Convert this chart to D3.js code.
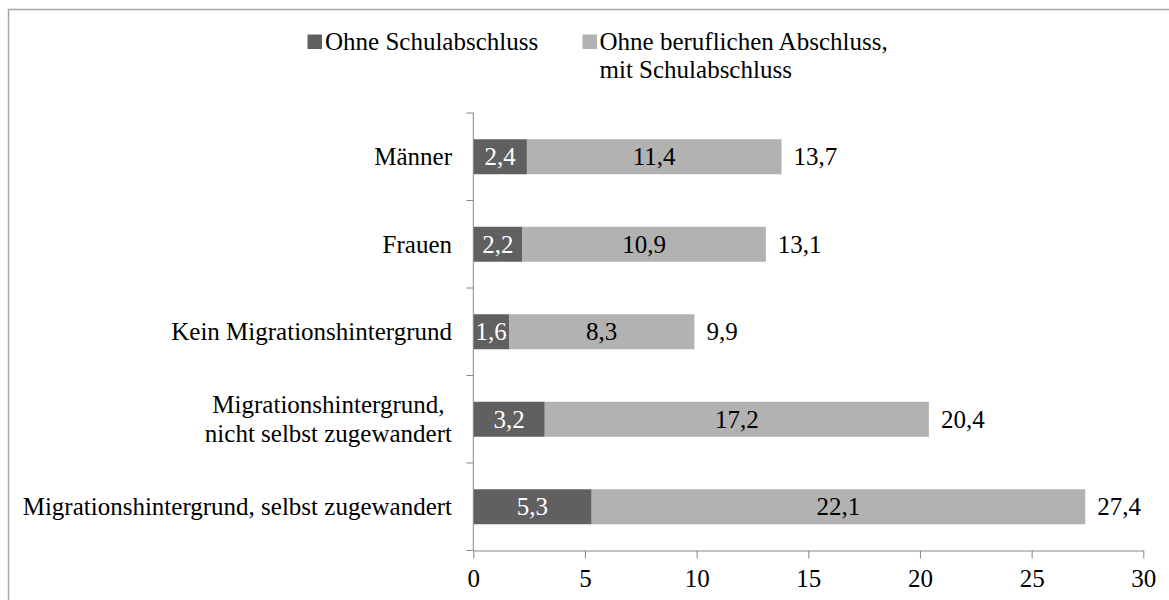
<!DOCTYPE html>
<html>
<head>
<meta charset="utf-8">
<script src="https://cdn.jsdelivr.net/npm/d3@7"></script>
<style>
  html, body { margin: 0; padding: 0; background: #fff; }
  svg { display: block; }
  text { font-family: "Liberation Serif", "Times New Roman", serif; }
</style>
</head>
<body>
<svg id="chart" width="1169" height="600"></svg>
<script>
const categories = [
  "Männer",
  "Frauen",
  "Kein Migrationshintergrund",
  "Migrationshintergrund,\nnicht selbst zugewandert",
  "Migrationshintergrund, selbst zugewandert"
];
const ohneSchulabschluss = [2.4, 2.2, 1.6, 3.2, 5.3];
const ohneBeruflichen = [11.4, 10.9, 8.3, 17.2, 22.1];
const totals = [13.7, 13.1, 9.9, 20.4, 27.4];
const xTicks = [0, 5, 10, 15, 20, 25, 30];
const seriesNames = ["Ohne Schulabschluss", "Ohne beruflichen Abschluss,\nmit Schulabschluss"];
const seriesColors = ["#606060", "#b2b2b2"];

const svg = d3.select("#chart");
const fontSize = 25;
const axisColor = "#878787";

const locale = d3.formatLocale({decimal: ",", thousands: ".", grouping: [3], currency: ["", "€"]});
const fmt = locale.format(".1f");

// outer frame
svg.append("rect")
  .attr("x", 8.5).attr("y", 9.5)
  .attr("width", 1300).attr("height", 800)
  .attr("fill", "none").attr("stroke", "#a6a6a6").attr("stroke-width", 1.5);

const x = d3.scaleLinear().domain([0, 30]).range([473.3, 1143.3]);
const y = d3.scaleBand().domain(categories).range([113, 550.5]).paddingInner(0.6).paddingOuter(0.3);

const rows = categories.map((c, i) => ({cat: c, s0: ohneSchulabschluss[i], s1: ohneBeruflichen[i], total: totals[i]}));
const stacked = d3.stack().keys(["s0", "s1"])(rows);

// bars
stacked.forEach((layer, li) => {
  svg.append("g").selectAll("rect")
    .data(layer)
    .join("rect")
    .attr("x", d => x(d[0]))
    .attr("y", d => y(d.data.cat))
    .attr("width", d => x(d[1]) - x(d[0]))
    .attr("height", y.bandwidth())
    .attr("fill", seriesColors[li]);
});

// segment labels
stacked.forEach((layer, li) => {
  svg.append("g").selectAll("text")
    .data(layer)
    .join("text")
    .attr("x", d => (x(d[0]) + x(d[1])) / 2)
    .attr("y", d => y(d.data.cat) + y.bandwidth() / 2 + 8.3)
    .attr("text-anchor", "middle")
    .attr("font-size", fontSize)
    .attr("fill", li === 0 ? "#ffffff" : "#000000")
    .text(d => fmt(d.data[layer.key]));
});

// total labels
svg.append("g").selectAll("text")
  .data(rows)
  .join("text")
  .attr("x", d => x(d.s0 + d.s1) + 12)
  .attr("y", d => y(d.cat) + y.bandwidth() / 2 + 8.3)
  .attr("font-size", fontSize)
  .attr("fill", "#000")
  .text(d => fmt(d.total));

// x axis
const xAxis = d3.axisBottom(x).tickValues(xTicks).tickSize(8).tickSizeOuter(0).tickPadding(5).tickFormat(d3.format("d"));
const gx = svg.append("g").attr("transform", "translate(0,550.5)").call(xAxis);
gx.select(".domain").attr("stroke", axisColor);
gx.selectAll(".tick line").attr("stroke", axisColor);
gx.selectAll(".tick text").attr("font-size", fontSize).attr("font-family", "Liberation Serif, serif").attr("fill", "#000").attr("dy", "0.95em");

// y axis line and category ticks
const yLeft = 473.3;
svg.append("line")
  .attr("x1", yLeft).attr("x2", yLeft)
  .attr("y1", y.range()[0]).attr("y2", y.range()[1])
  .attr("stroke", axisColor);
const edges = d3.range(categories.length + 1).map(i => y.range()[0] + i * y.step());
svg.append("g").selectAll("line")
  .data(edges)
  .join("line")
  .attr("x1", yLeft - 7).attr("x2", yLeft)
  .attr("y1", d => d).attr("y2", d => d)
  .attr("stroke", axisColor);

// category labels (right aligned block, lines centered within block)
const labelRight = 452;
const lineH = 28.3;
categories.forEach(c => {
  const lines = c.split("\n");
  const cy = y(c) + y.bandwidth() / 2 + 8.3;
  const t = svg.append("text").attr("font-size", fontSize).attr("fill", "#000");
  const tspans = lines.map((ln, j) => t.append("tspan").text(ln)
      .attr("y", cy + (j - (lines.length - 1) / 2) * lineH));
  if (lines.length === 1) {
    t.attr("text-anchor", "end");
    tspans[0].attr("x", labelRight);
  } else {
    const w = d3.max(tspans, s => s.node().getComputedTextLength());
    t.attr("text-anchor", "middle");
    tspans.forEach(s => s.attr("x", labelRight - w / 2));
  }
});

// legend
const legendItems = [
  {name: seriesNames[0], color: seriesColors[0], sx: 307.5, tx: 325},
  {name: seriesNames[1], color: seriesColors[1], sx: 582.5, tx: 599.5}
];
legendItems.forEach(it => {
  svg.append("rect")
    .attr("x", it.sx).attr("y", 34.5)
    .attr("width", 14.5).attr("height", 14.5)
    .attr("fill", it.color);
  const t = svg.append("text").attr("font-size", fontSize).attr("fill", "#000");
  it.name.split("\n").forEach((ln, j) => {
    t.append("tspan").attr("x", it.tx).attr("y", 50 + j * lineH).text(ln);
  });
});
</script>
</body>
</html>
